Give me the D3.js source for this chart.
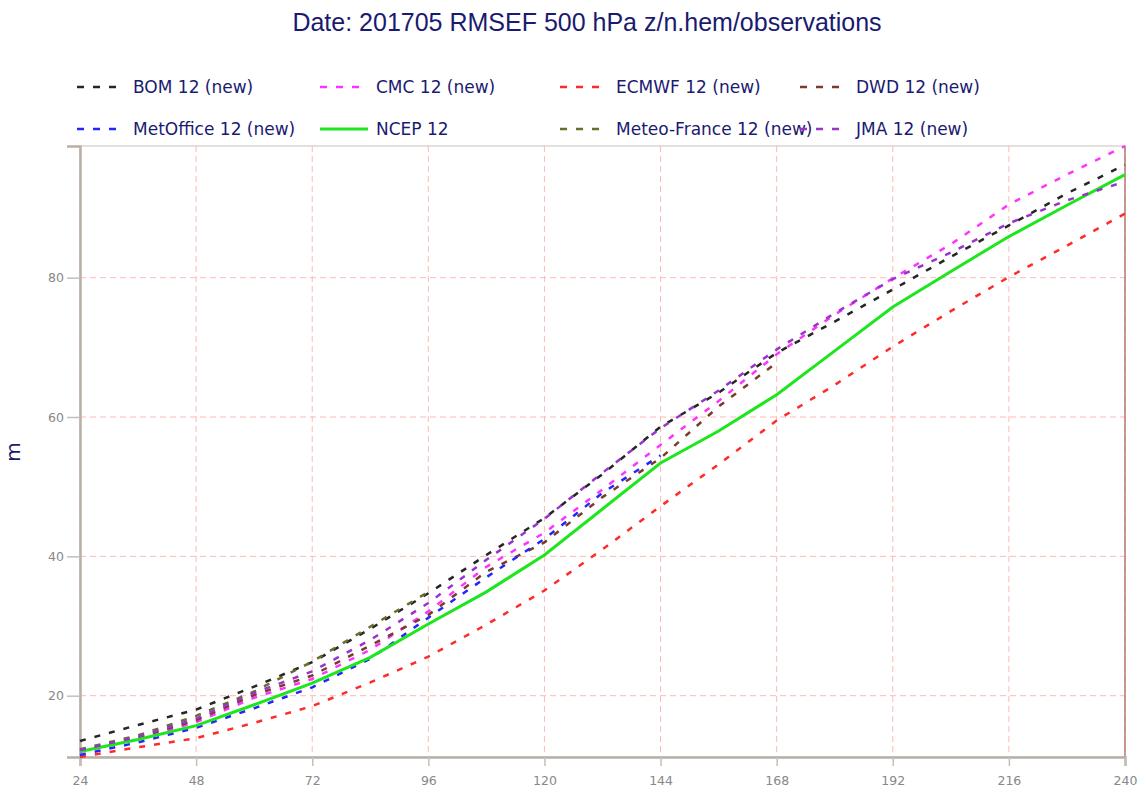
<!DOCTYPE html>
<html lang="en">
<head>
    <meta charset="UTF-8">
    <title>RMSEF 500 hPa</title>
    <script src="https://d3js.org/d3.v7.min.js"></script>
    <style>
        html, body {
            margin: 0;
            background: #fff;
        }
        svg text { font-family: "DejaVu Sans", sans-serif; }
    </style>
</head>
<body>
<div id="vis"></div>
<script>
// forecast step (hours)
var steps = [24, 36, 48, 60, 72, 84, 96, 108, 120, 132, 144, 156, 168, 180, 192, 204, 216, 228, 240];

var bom =        [13.5, 15.8, 18.0, 21.3, 24.8, 29.6, 34.7, 40.2, 45.5, 51.8, 58.6, 63.5, 69.2, 73.7, 78.3, 83.0, 87.5, 92.1, 96.2];
var cmc =        [11.9, 13.8, 16.2, 19.7, 22.4, 26.6, 32.1, 38.5, 43.4, 49.6, 56.0, 62.3, 69.0, 74.7, 79.9, 84.8, 90.5, 94.8, 98.9];
var ecmwf =      [11.2, 12.6, 13.9, 16.1, 18.5, 21.9, 25.6, 30.2, 35.1, 41.0, 47.2, 53.2, 59.5, 64.6, 70.1, 75.2, 80.1, 84.6, 89.2];
var dwd =        [12.1, 14.0, 16.5, 20.1, 22.9, 27.2, 31.6, 37.8, 42.0, 48.5, 54.1, 61.5, 67.8];
var metoffice =  [11.5, 13.3, 15.4, 18.2, 21.2, 25.3, 31.2, 37.0, 42.5, 49.1, 54.5];
var ncep =       [12.0, 13.7, 15.7, 18.7, 21.8, 25.5, 30.3, 34.9, 40.2, 46.8, 53.4, 58.0, 63.2, 69.5, 75.8, 80.9, 85.9, 90.4, 94.8];
var meteofrance = [12.3, 14.3, 17.1, 20.6, 24.9, 29.9, 34.9];
var jma =        [12.2, 14.1, 16.7, 20.4, 23.5, 28.0, 33.3, 39.5, 45.4, 52.0, 58.4, 63.8, 69.7, 74.9, 79.8, 83.6, 87.8, 91.1, 93.8];

var seriesNames = ['BOM 12 (new)', 'CMC 12 (new)', 'ECMWF 12 (new)', 'DWD 12 (new)',
                   'MetOffice 12 (new)', 'NCEP 12', 'Meteo-France 12 (new)', 'JMA 12 (new)'];
var seriesValues = [bom, cmc, ecmwf, dwd, metoffice, ncep, meteofrance, jma];
var seriesColors = ['#262626', '#ff33ff', '#ff2a2a', '#7a3b2a', '#2424ff', '#1ee61e', '#6b6b2a', '#9933cc'];
var seriesDashed = [true, true, true, true, true, false, true, true];

var xTicks = [24, 48, 72, 96, 120, 144, 168, 192, 216, 240];
var yTicks = [20, 40, 60, 80];

var W = 1139, H = 787;
var margin = { top: 146, right: 14, bottom: 30, left: 80 };

var svg = d3.select('#vis')
    .append('svg')
    .attr('width', W)
    .attr('height', H);

var width = W - margin.left - margin.right;
var height = H - margin.top - margin.bottom;

var series = seriesNames.map(function(name, i) {
    return {
        name: name,
        color: seriesColors[i],
        dashed: seriesDashed[i],
        values: seriesValues[i].map(function(v, j) { return { h: steps[j], v: v }; })
    };
});

var all = [].concat.apply([], seriesValues);

var x_scale = d3.scaleLinear()
    .domain([24, 240])
    .range([0, width]);

var y_scale = d3.scaleLinear()
    .domain(d3.extent(all))
    .range([height, 0]);

// title
svg.append('text')
    .attr('x', 587)
    .attr('y', 31)
    .attr('text-anchor', 'middle')
    .style('font-family', '"Liberation Sans", Arial, sans-serif')
    .style('font-size', '25px')
    .attr('fill', '#1a1a70')
    .text('Date: 201705 RMSEF 500 hPa z/n.hem/observations');

// legend
var legendCols = [77, 320, 560, 800];
var legendRows = [87, 129];
var legend = svg.append('g').attr('class', 'legend');
series.forEach(function(s, i) {
    var lx = legendCols[i % 4], ly = legendRows[Math.floor(i / 4)];
    legend.append('text')
        .attr('x', lx + 56)
        .attr('y', ly + 6)
        .style('font-size', '17px')
        .attr('fill', '#1a1a70')
        .text(s.name);
});
series.forEach(function(s, i) {
    var lx = legendCols[i % 4], ly = legendRows[Math.floor(i / 4)];
    legend.append('line')
        .attr('x1', lx).attr('x2', lx + 48)
        .attr('y1', ly).attr('y2', ly)
        .attr('stroke', s.color)
        .attr('stroke-width', s.dashed ? 2.5 : 3)
        .attr('stroke-dasharray', s.dashed ? '7,9' : null);
});

var g = svg.append('g')
    .attr('transform', 'translate(' + margin.left + ',' + margin.top + ')');

// frame
g.append('rect')
    .attr('width', width)
    .attr('height', height)
    .attr('fill', 'none')
    .attr('stroke', '#ddd6d0')
    .attr('stroke-width', 1.5);

// grid
g.selectAll('.vgrid')
    .data(xTicks)
    .enter()
    .append('line')
    .attr('class', 'vgrid')
    .attr('x1', function(d) { return x_scale(d); })
    .attr('x2', function(d) { return x_scale(d); })
    .attr('y1', 0)
    .attr('y2', height)
    .attr('stroke', '#ffb8b8')
    .attr('stroke-dasharray', '6,4');

g.selectAll('.hgrid')
    .data(yTicks)
    .enter()
    .append('line')
    .attr('class', 'hgrid')
    .attr('x1', 0)
    .attr('x2', width)
    .attr('y1', function(d) { return y_scale(d); })
    .attr('y2', function(d) { return y_scale(d); })
    .attr('stroke', '#ffb8b8')
    .attr('stroke-dasharray', '6,4');

// right edge
g.append('line')
    .attr('x1', width).attr('x2', width)
    .attr('y1', 0).attr('y2', height)
    .attr('stroke', '#a05a50')
    .attr('stroke-width', 1);

// axes
var x_axis = d3.axisBottom(x_scale).tickValues(xTicks).tickSize(9).tickPadding(10);
var y_axis = d3.axisLeft(y_scale).tickValues(yTicks).tickSize(13).tickPadding(3);

var gx = g.append('g')
    .attr('class', 'x axis')
    .attr('transform', 'translate(0,' + height + ')')
    .call(x_axis);

var gy = g.append('g')
    .attr('class', 'y axis')
    .call(y_axis);

[gx, gy].forEach(function(a) {
    a.select('.domain').attr('stroke', '#b8b0a8').attr('stroke-width', 2.5);
    a.selectAll('.tick line').attr('stroke', '#c0c0c0').attr('stroke-width', 1.5);
    a.selectAll('.tick text')
        .attr('fill', '#888')
        .style('font-size', '12.5px')
        .style('font-family', '"DejaVu Sans", sans-serif');
});

// y label
svg.append('text')
    .attr('transform', 'translate(20,452) rotate(-90)')
    .attr('text-anchor', 'middle')
    .style('font-size', '20px')
    .attr('fill', '#1a1a70')
    .text('m');

// lines
var line = d3.line()
    .x(function(d) { return x_scale(d.h); })
    .y(function(d) { return y_scale(d.v); });

g.selectAll('.series')
    .data(series)
    .enter()
    .append('path')
    .attr('class', 'series')
    .attr('d', function(d) { return line(d.values); })
    .attr('fill', 'none')
    .attr('stroke', function(d) { return d.color; })
    .attr('stroke-width', function(d) { return d.dashed ? 2.5 : 3; })
    .attr('stroke-dasharray', function(d) { return d.dashed ? '6,9' : null; });
</script>
</body>
</html>
